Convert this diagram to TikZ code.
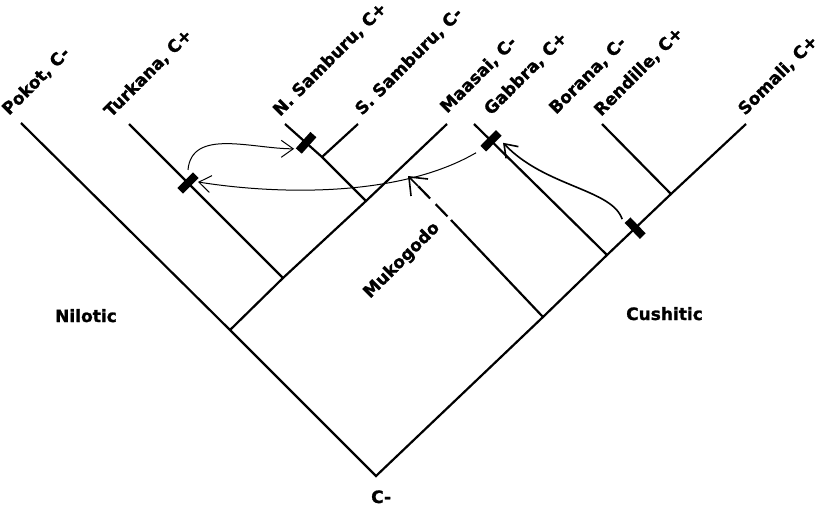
\documentclass[tikz,border=0pt]{standalone}
\usepackage{fontspec}
\newfontfamily\heavyfont{DejaVu Sans Bold}[FakeBold=1.2]
\usetikzlibrary{arrows.meta}
\tikzset{
	branch/.style={line width=2.2pt},
	taxon/.style={anchor=base west, rotate=45, inner sep=0pt, font=\heavyfont\fontsize{17}{20}\selectfont},
	group/.style={anchor=base west, inner sep=0pt, font=\heavyfont\fontsize{17}{20}\selectfont},
	bar/.style={fill=black, inner sep=0pt, minimum width=8pt, minimum height=22pt, sloped},
	transfer/.style={line width=1pt, -{Straight Barb[length=12pt,width=17pt]}},
}
\begin{document}
\begin{tikzpicture}[x=1pt, y=1pt]
		\useasboundingbox (0,0) rectangle (824,507);
		% branch points
		\coordinate (root) at (376,31);
		\coordinate (nil) at (230,177);
		\coordinate (turk) at (283,229);
		\coordinate (nsam) at (366,306);
		\coordinate (ssam) at (322,350);
		\coordinate (muk) at (543,190);
		\coordinate (gab) at (607,252);
		\coordinate (ren) at (671,313);
		\coordinate (mkd) at (451,287);
		\coordinate (mkbase) at (418,321);
		\coordinate (mkhead) at (408,331);
		% tips
		\coordinate (pk) at (21,384);
		\coordinate (tk) at (129,383);
		\coordinate (ns) at (285,383);
		\coordinate (ss) at (358,383);
		\coordinate (ma) at (447,383);
		\coordinate (ga) at (474,383);
		\coordinate (re) at (602,383);
		\coordinate (so) at (746,383);

		\node[taxon] (pokot) at (9,391) {Pokot, C-};
		\node[taxon] (turkana) at (111,389) {Turkana, C+};
		\node[taxon] (nsamburu) at (280,390) {N. Samburu, C+};
		\node[taxon] (ssamburu) at (362,391) {S. Samburu, C-};
		\node[taxon] (maasai) at (447,393) {Maasai, C-};
		\node[taxon] (gabbra) at (491,391) {Gabbra, C+};
		\node[taxon] (borana) at (556,392) {Borana, C-};
		\node[taxon] (rendille) at (601,390) {Rendille, C+};
		\node[taxon] (somali) at (745,391) {Somali, C+};
		\node[taxon] (mukogodo) at (370,208) {Mukogodo};
		\node[group] (nilotic) at (55,185) {Nilotic};
		\node[group] (cushitic) at (626,187) {Cushitic};
		\node[group] (rootlabel) at (371,4) {C-};

		\draw[branch, line join=miter] (pk) -- (nil) -- (root) -- (muk) -- (gab) -- (ren) -- (so);
		\draw[branch] (nil) -- (turk) -- (nsam) -- (ma);
		\draw[branch] (turk) -- node[bar, pos=.617] (tbar) {} (tk);
		\draw[branch] (nsam) -- (ssam) -- node[bar, pos=.43] (nbar) {} (ns);
		\draw[branch] (ssam) -- (ss);
		\draw[branch] (gab) -- node[bar, pos=.872] (gbar) {} (ga);
		\draw[branch] (ren) -- (re);
		\path (gab) -- node[bar, pos=.44] (cbar) {} (ren);
		\draw[branch] (muk) -- (mkd);
		\draw[branch, dash pattern=on 17pt off 8pt, dash phase=20pt] (mkd) -- (mkbase);
		\draw[line width=1.6pt, -{Straight Barb[length=15pt,width=24pt]}] (mkbase) -- (mkhead);

		\draw[transfer] ([yshift=13]tbar.center) to[out=85, in=180] ([shift={(-12,-6)}]nbar.center);
		\draw[transfer] ([shift={(-15,-12)}]gbar.center) .. controls (400,310) and (280,312) .. ([shift={(10,1)}]tbar.center);
		\draw[transfer, line width=1.6pt] ([shift={(-13,9)}]cbar.center) .. controls (612,318) and (545,320) .. ([shift={(12,-2)}]gbar.center);
	\end{tikzpicture}
\end{document}
